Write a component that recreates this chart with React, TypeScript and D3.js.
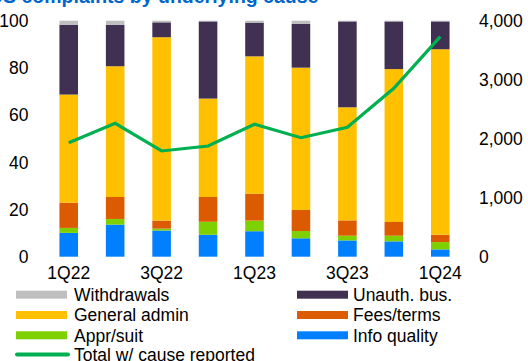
import React from "react";
import * as d3 from "d3";

const quarters = ["1Q22", "2Q22", "3Q22", "4Q22", "1Q23", "2Q23", "3Q23", "4Q23", "1Q24"];
const tickQuarters = ["1Q22", "3Q22", "1Q23", "3Q23", "1Q24"];
const infoQuality = [10.1, 13.6, 11.1, 9.3, 10.8, 7.8, 6.9, 6.5, 3.1];
const apprSuit = [2.1, 2.4, 0.8, 5.5, 4.5, 3.1, 2.0, 2.4, 3.1];
const feesTerms = [10.7, 9.3, 3.4, 10.5, 11.4, 8.9, 6.5, 5.8, 3.1];
const generalAdmin = [45.8, 55.4, 77.7, 41.7, 58.2, 60.3, 47.9, 64.8, 78.6];
const unauthBus = [29.6, 17.6, 6.3, 32.7, 14.3, 18.5, 36.4, 20.2, 11.8];
const withdrawals = [1.7, 1.7, 0.7, 0.3, 0.8, 1.4, 0.3, 0.3, 0.3];
const totalReported = [1932, 2261, 1792, 1876, 2244, 2017, 2193, 2854, 3729];
const leftTicks = [0, 20, 40, 60, 80, 100];
const rightTicks = [0, 1000, 2000, 3000, 4000];

const seriesKeys = ["info", "appr", "fees", "general", "unauth", "withdrawals"];
const seriesColors: Record<string, string> = {
  info: "#0080ff",
  appr: "#7ed000",
  fees: "#dc5a00",
  general: "#ffc000",
  unauth: "#403152",
  withdrawals: "#bfbfbf",
};
const lineColor = "#00b050";

const legendItems = [
  { label: "Withdrawals", color: "#bfbfbf", col: 0, row: 0 },
  { label: "Unauth. bus.", color: "#403152", col: 1, row: 0 },
  { label: "General admin", color: "#ffc000", col: 0, row: 1 },
  { label: "Fees/terms", color: "#dc5a00", col: 1, row: 1 },
  { label: "Appr/suit", color: "#7ed000", col: 0, row: 2 },
  { label: "Info quality", color: "#0080ff", col: 1, row: 2 },
];

const W = 528;
const H = 361;
const FONT = "'Liberation Sans', Arial, sans-serif";
const FS = 17.5;

export default function App() {
  const rows = quarters.map((q, i) => ({
    q,
    info: infoQuality[i],
    appr: apprSuit[i],
    fees: feesTerms[i],
    general: generalAdmin[i],
    unauth: unauthBus[i],
    withdrawals: withdrawals[i],
  }));
  const stacked = d3.stack<any>().keys(seriesKeys)(rows);

  const x = d3.scaleBand<string>().domain(quarters).range([45.5, 463.5]).paddingInner(0.6).paddingOuter(0.3);
  const yL = d3.scaleLinear().domain([0, 100]).range([256.7, 20.7]);
  const yR = d3.scaleLinear().domain([0, 4000]).range([256.7, 20.7]);
  const cx = (q: string) => (x(q) as number) + x.bandwidth() / 2;

  const line = d3
    .line<number>()
    .x((_, i) => cx(quarters[i]))
    .y((d) => yR(d));

  const fmt = d3.format(",");

  const colX = [16, 297];
  const textX = [74, 353];
  const rowY = [294.7, 315, 335.3, 354.6];

  return (
    <svg
      width={W}
      height={H}
      style={{ position: "absolute", left: 0, top: 0, background: "#fff" }}
      fontFamily={FONT}
    >
      <text x={-11} y={3} fill="#0066cc" fontWeight="bold" fontSize={19.5}>
        US complaints by underlying cause
      </text>

      {stacked.map((s) => (
        <g key={s.key} fill={seriesColors[s.key]}>
          {s.map((d, i) => (
            <rect
              key={i}
              x={x(quarters[i])}
              y={yL(d[1])}
              width={x.bandwidth()}
              height={Math.max(0, yL(d[0]) - yL(d[1]))}
            />
          ))}
        </g>
      ))}

      <path d={line(totalReported) || ""} fill="none" stroke={lineColor} strokeWidth={3.2} strokeLinejoin="miter" />

      {leftTicks.map((t) => (
        <text key={t} x={28.5} y={yL(t)} dy="0.36em" textAnchor="end" fontSize={FS} fill="#000">
          {t}
        </text>
      ))}
      {rightTicks.map((t) => (
        <text key={t} x={479} y={yR(t)} dy="0.36em" textAnchor="start" fontSize={FS} fill="#000">
          {fmt(t)}
        </text>
      ))}
      {tickQuarters.map((q) => (
        <text key={q} x={cx(q)} y={279} textAnchor="middle" fontSize={FS} fill="#000">
          {q}
        </text>
      ))}

      {legendItems.map((it) => (
        <g key={it.label}>
          <rect x={colX[it.col]} y={rowY[it.row] - 4} width={51} height={8} fill={it.color} />
          <text x={textX[it.col]} y={rowY[it.row]} dy="0.36em" fontSize={FS} fill="#000">
            {it.label}
          </text>
        </g>
      ))}
      <line x1={17} x2={68} y1={rowY[3]} y2={rowY[3]} stroke={lineColor} strokeWidth={4} strokeLinecap="round" />
      <text x={textX[0]} y={rowY[3]} dy="0.36em" fontSize={FS} fill="#000">
        Total w/ cause reported
      </text>
    </svg>
  );
}
